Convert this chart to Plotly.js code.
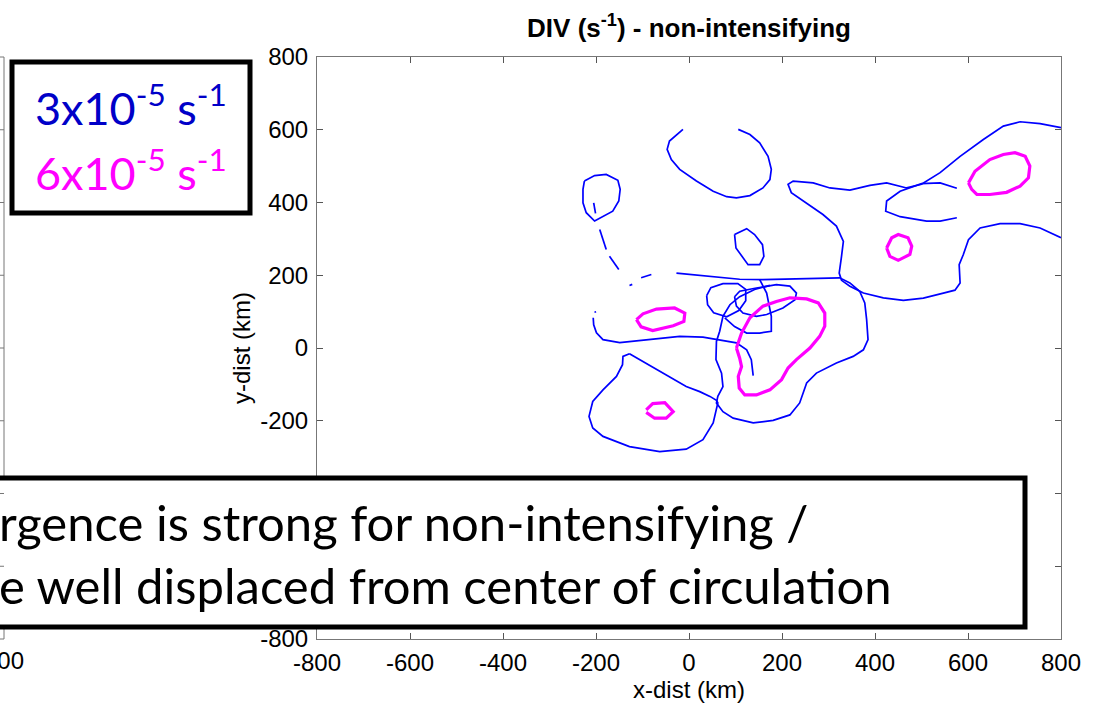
<!DOCTYPE html>
<html>
<head>
<meta charset="utf-8">
<script src="https://cdn.plot.ly/plotly-3.0.1.min.js"></script>
<style>html,body{margin:0;padding:0;background:#fff;}#chart{width:1101px;height:709px;}</style>
</head>
<body>
<div id="chart"></div>
<script>
// ---- axis ticks ----
const X_TICKS = [-800, -600, -400, -200, 0, 200, 400, 600, 800];
const Y_TICKS = [-800, -600, -400, -200, 0, 200, 400, 600, 800];

// ---- 3x10^-5 s^-1 contours (blue), km ----
const blueA_x = [-13, -42, -47, -38, -20, 16, 52, 81, 102, 131, 159, 174, 177, 170, 152, 131, 106];
const blueA_y = [601, 569, 546, 518, 491, 459, 431, 416, 413, 419, 440, 463, 491, 527, 564, 587, 601];

const blueB_x = [-225, -203, -178, -153, -148, -151, -164, -185, -203, -221, -228, -228, -225];
const blueB_y = [459, 474, 477, 461, 436, 404, 376, 361, 349, 372, 399, 436, 459];

// broken (dashed-looking) piece of a contour
const blueDash_x = [-205, -201, null, -192, -178, null, -171, -151, null, -128, -122, null, -103, -81, null, -202, -201];
const blueDash_y = [399, 370, null, 326, 271, null, 252, 216, null, 172, 175, null, 193, 202, null, 101, 97];

const blueC_x = [98, 124, 141, 158, 161, 152, 127, 113, 101, 98];
const blueC_y = [312, 328, 312, 284, 252, 229, 229, 252, 275, 312];

const blueD_x = [-27, 45, 109, 159, 217, 281, 324, 346, 367, 378, 382, 385, 375, 353, 317, 274, 253, 238, 217, 181, 138, 95, 73, 59, 62, 73, 70, 58, 59, 66, 73, 88, 109, 141, 174];
const blueD_y = [206, 197, 189, 188, 190, 193, 193, 179, 156, 124, 78, 23, -5, -23, -41, -69, -96, -151, -184, -199, -206, -193, -175, -151, -133, -106, -69, -32, 18, 46, 87, 119, 141, 161, 172];

const blueP_x = [38, 47, 73, 105, 122, 122, 107, 81, 53, 40, 38];
const blueP_y = [144, 166, 177, 177, 161, 130, 103, 86, 97, 119, 144];

const blueQ_x = [98, 109, 145, 188, 217, 231, 228, 202, 167, 145, 116, 102, 98];
const blueQ_y = [141, 156, 165, 174, 170, 151, 133, 110, 92, 87, 96, 115, 141];

const blueR_x = [152, 167, 177, 177, 152, 124, 98, 77];
const blueR_y = [188, 151, 87, 46, 41, 41, 59, 83];

const blueF_x = [-206, -205, -199, -185, -149, -78, -20, 30, 62, 102, 124, 134, 138];
const blueF_y = [83, 64, 42, 23, 15, 25, 32, 30, 23, 14, -5, -32, -76];

const blueG_x = [-128, -142, -143, -156, -185, -207, -215, -207, -185, -128, -63, -6, 30, 52, 62, 59, 45, 23, -6, -70, -113, -128];
const blueG_y = [-16, -23, -46, -78, -115, -147, -188, -220, -243, -271, -285, -278, -252, -206, -151, -144, -133, -120, -106, -60, -28, -16];

const blueE_x = [800, 755, 712, 676, 633, 583, 540, 500, 468, 425, 389, 346, 303, 267, 224, 213, 220, 253, 288, 317, 332, 328, 323, 328, 346, 375, 418, 461, 504, 547, 572, 583, 581, 590, 601, 626, 669, 712, 755, 800];
const blueE_y = [606, 617, 622, 610, 573, 527, 482, 450, 440, 454, 447, 434, 440, 454, 459, 450, 427, 399, 367, 335, 293, 252, 206, 186, 170, 151, 138, 131, 137, 151, 159, 179, 229, 257, 298, 330, 342, 342, 330, 303];

const blueH_x = [576, 540, 500, 454, 425, 423, 454, 511, 540, 576];
const blueH_y = [439, 454, 452, 431, 404, 376, 361, 349, 349, 358];

// ---- 6x10^-5 s^-1 contours (magenta), km ----
const magM1_x = [102, 113, 131, 159, 188, 217, 253, 278, 292, 292, 281, 260, 231, 213, 199, 174, 145, 120, 108, 106, 113, 109, 102];
const magM1_y = [0, 41, 83, 115, 128, 138, 135, 124, 96, 60, 32, 0, -32, -55, -87, -115, -129, -129, -110, -78, -51, -28, 0];

const magM2_x = [-113, -99, -70, -31, -9, -11, -34, -78, -103, -113];
const magM2_y = [78, 94, 107, 110, 96, 73, 61, 48, 58, 78];

const magM3_x = [-92, -78, -52, -34, -49, -74, -92];
const magM3_y = [-170, -153, -150, -175, -193, -193, -177];

const magM4_x = [425, 436, 450, 471, 479, 475, 450, 432, 425];
const magM4_y = [275, 303, 312, 303, 280, 257, 241, 252, 275];

const magM5_x = [601, 615, 647, 676, 701, 723, 733, 730, 712, 683, 647, 619, 608, 601];
const magM5_y = [454, 486, 518, 532, 537, 527, 500, 468, 445, 428, 422, 422, 436, 454];

// neighbouring (cropped) chart's y ticks
const LEFT_TICKS = [-600, -400, -200, 0, 200, 400, 600];

const BLUE = '#0000FF';
const MAG = '#FF00FF';

const blueSets = [
  [blueA_x, blueA_y], [blueB_x, blueB_y], [blueDash_x, blueDash_y], [blueC_x, blueC_y],
  [blueD_x, blueD_y], [blueP_x, blueP_y], [blueQ_x, blueQ_y], [blueR_x, blueR_y],
  [blueF_x, blueF_y], [blueG_x, blueG_y], [blueE_x, blueE_y], [blueH_x, blueH_y]
];
const magSets = [
  [magM1_x, magM1_y], [magM2_x, magM2_y], [magM3_x, magM3_y], [magM4_x, magM4_y], [magM5_x, magM5_y]
];

const traces = [];
blueSets.forEach(s => traces.push({
  x: s[0], y: s[1], type: 'scatter', mode: 'lines', connectgaps: false,
  line: {color: BLUE, width: 1.7}, showlegend: false, hoverinfo: 'skip'
}));
magSets.forEach(s => traces.push({
  x: s[0], y: s[1], type: 'scatter', mode: 'lines',
  line: {color: MAG, width: 3.2}, showlegend: false, hoverinfo: 'skip'
}));

// paper-coordinate helpers (plot area 317..1061 px, 57..639 px)
const L = 317, R = 1061, T = 57, B = 639;
const px = v => (v - L) / (R - L);
const py = v => (B - v) / (B - T);

const shapes = [
  // cropped neighbouring chart frame
  {type: 'line', xref: 'paper', yref: 'paper', x0: px(4), x1: px(4), y0: py(57), y1: py(639), line: {color: '#777', width: 1}},
  {type: 'line', xref: 'paper', yref: 'paper', x0: px(-5), x1: px(4), y0: py(57), y1: py(57), line: {color: '#777', width: 1}},
  {type: 'line', xref: 'paper', yref: 'paper', x0: px(-5), x1: px(4), y0: py(639), y1: py(639), line: {color: '#777', width: 1}},
  // legend box
  {type: 'rect', xref: 'paper', yref: 'paper', x0: px(12), x1: px(250), y0: py(62), y1: py(213), line: {color: '#000', width: 5}, fillcolor: '#fff', layer: 'above'},
  // bottom text box
  {type: 'rect', xref: 'paper', yref: 'paper', x0: px(-10), x1: px(1025), y0: py(478), y1: py(627), line: {color: '#000', width: 5}, fillcolor: '#fff', layer: 'above'}
];
LEFT_TICKS.forEach(t => shapes.push({
  type: 'line', xref: 'paper', yref: 'y', x0: px(0), x1: px(4), y0: t, y1: t, line: {color: '#777', width: 1}
}));

const CAL = 'Lato, "Open Sans", sans-serif';
const ARIAL = 'Liberation Sans, Arial, sans-serif';
const annotations = [
  {xref: 'paper', yref: 'paper', x: px(131), y: py(105), xanchor: 'center', yanchor: 'middle', showarrow: false,
   text: '3x10<sup>-5</sup> s<sup>-1</sup>', font: {family: CAL, size: 45, color: '#0000C8'}},
  {xref: 'paper', yref: 'paper', x: px(131), y: py(170), xanchor: 'center', yanchor: 'middle', showarrow: false,
   text: '6x10<sup>-5</sup> s<sup>-1</sup>', font: {family: CAL, size: 45, color: '#FF00FF'}},
  {xref: 'paper', yref: 'paper', x: px(-3), y: py(522), xanchor: 'left', yanchor: 'middle', showarrow: false,
   text: 'rgence is strong for non-intensifying /', font: {family: CAL, size: 49, color: '#000'}},
  {xref: 'paper', yref: 'paper', x: px(-3), y: py(585), xanchor: 'left', yanchor: 'middle', showarrow: false,
   text: 'e well displaced from center of circulation', font: {family: CAL, size: 49, color: '#000'}},
  {xref: 'paper', yref: 'paper', x: px(26), y: py(660), xanchor: 'right', yanchor: 'middle', showarrow: false,
   text: '800', font: {family: ARIAL, size: 24, color: '#000'}}
];

const axisCommon = {
  ticks: 'inside', ticklen: 6, tickcolor: '#555', tickwidth: 1,
  showline: true, linecolor: '#777', linewidth: 1, mirror: 'allticks',
  showgrid: false, zeroline: false,
  tickfont: {family: ARIAL, size: 24, color: '#000'}
};

const layout = {
  width: 1101, height: 709,
  margin: {l: L, r: 1101 - R, t: T, b: 709 - B},
  paper_bgcolor: '#fff', plot_bgcolor: '#fff',
  title: {text: '<b>DIV (s<sup>-1</sup>) - non-intensifying</b>', x: 0.5, xref: 'paper', y: 1 - 28 / 709, yanchor: 'middle',
          font: {family: ARIAL, size: 26, color: '#000'}},
  xaxis: Object.assign({}, axisCommon, {
    range: [-800, 800], tickvals: X_TICKS, ticktext: X_TICKS.map(String), ticklabelstandoff: 2,
    title: {text: 'x-dist (km)', standoff: 2, font: {family: ARIAL, size: 24, color: '#000'}}
  }),
  yaxis: Object.assign({}, axisCommon, {
    range: [-800, 800], tickvals: Y_TICKS, ticktext: Y_TICKS.map(String), ticklabelstandoff: 3,
    title: {text: 'y-dist (km)', standoff: 2, font: {family: ARIAL, size: 24, color: '#000'}}
  }),
  shapes: shapes,
  annotations: annotations
};

Plotly.newPlot('chart', traces, layout, {staticPlot: true, displayModeBar: false});
</script>
</body>
</html>
